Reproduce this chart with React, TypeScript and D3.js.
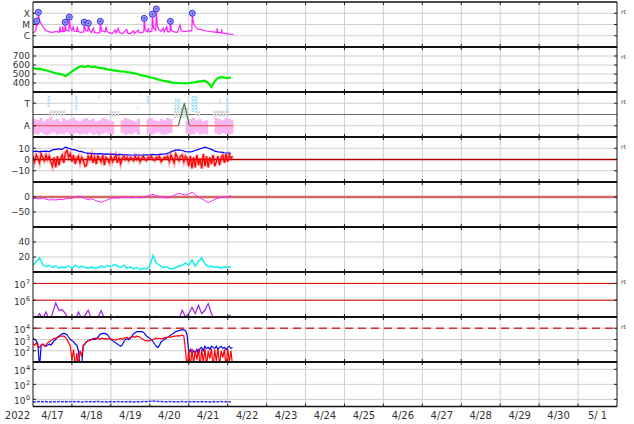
import React from 'react';
import * as d3 from 'd3';

const W = 634, H = 424;
const PLOT_LEFT = 33, PLOT_RIGHT = 617;
const YEAR_LABEL = '2022';
const dayLabels = ['4/17','4/18','4/19','4/20','4/21','4/22','4/23','4/24','4/25','4/26','4/27','4/28','4/29','4/30','5/ 1'];
const panelTops = [2, 47, 92, 137, 182, 227, 272, 317, 362];
const panelBottoms = [47, 92, 137, 182, 227, 272, 317, 362, 406.5];

// Panel 1: X-ray flux [hour, W/m2]
const xrayTrace: [number, number][] = [
  [0,1.8e-6],[1.0,2.2e-6],[1.8,3e-6],[2.3,2.0e-5],[2.8,8e-6],[3.3,1.2e-4],[3.9,2.5e-5],[5.3,1.0e-5],[6.5,5e-6],[8.4,2.8e-6],
  [10,2.2e-6],[12.5,2e-6],[14,2.4e-6],[16.3,2e-6],[16.6,6.4e-6],[17.0,2.5e-6],[18.0,2.2e-6],[18.3,6.8e-6],[18.8,2.5e-6],[19.6,2.4e-6],
  [19.9,1.6e-5],[20.4,3e-6],[22.1,2.6e-6],[22.4,4.6e-5],[23,5e-6],[24,3e-6],[24.9,6e-6],[25.3,2.6e-6],[27.0,2.4e-6],[27.3,6.4e-6],
  [27.8,2.5e-6],[29,2.0e-6],[31.3,2.2e-6],[31.6,1.6e-5],[32.3,3e-6],[33.8,2.6e-6],[34.1,1.3e-5],[34.8,3e-6],[36,2e-6],[37.2,4.6e-6],
  [37.8,2e-6],[39,1.7e-6],[41.2,1.9e-6],[41.5,1.9e-5],[42.2,2.8e-6],[44.5,2.2e-6],[45.0,6.4e-6],[45.6,2.5e-6],[47,1.8e-6],[49,1.6e-6],
  [50.6,3.2e-6],[51.2,1.8e-6],[52.6,4.6e-6],[53.2,2e-6],[55,1.5e-6],[57.8,3.7e-6],[58.4,1.6e-6],[60,1.5e-6],[61.9,2.8e-6],[62.5,1.6e-6],
  [64.9,3.2e-6],[65.5,1.8e-6],[67,1.9e-6],[68.3,2.2e-6],[68.6,3.5e-5],[69.2,3.5e-6],[70.6,2.2e-6],[71.1,4.6e-6],[71.6,2.2e-6],[73.3,2.5e-6],
  [73.6,8.1e-5],[74.2,5e-6],[75.7,3e-6],[76.0,2.4e-4],[76.6,8e-6],[77.5,3.5e-6],[79,2.4e-6],[80.4,4.6e-6],[80.9,2.2e-6],[82.4,6.4e-6],
  [82.9,2.3e-6],[84.4,2.2e-6],[84.7,1.9e-5],[85.4,3e-6],[87,2.2e-6],[89,2.0e-6],[90.6,9.1e-6],[91.3,3e-6],[93,2.3e-6],[95,2.6e-6],
  [97.9,2.8e-6],[98.2,1.0e-4],[98.8,1.5e-5],[99.9,6.4e-6],[101.5,4e-6],[103,3.7e-6],[106,2.8e-6],[109,2.4e-6],[111,2.2e-6],[113.3,2.0e-6],
  [113.5,4.6e-6],[113.9,2e-6],[116.1,1.8e-6],[116.3,3.7e-6],[116.7,1.7e-6],[119,1.6e-6],[121,1.4e-6],[123.5,1.35e-6]
];
const flareEvents: [number, number][] = [
  [2.3,2.0e-5],[3.3,1.2e-4],[19.9,1.6e-5],[22.4,4.6e-5],[31.6,1.6e-5],[34.1,1.3e-5],
  [41.5,1.9e-5],[68.6,3.5e-5],[73.6,8.1e-5],[76.0,2.4e-4],[84.7,1.9e-5],[98.2,1.0e-4]
];
const xrayClassTicks = [1e-4, 1e-5, 1e-6];
const xrayClassLabels = ['X', 'M', 'C'];

// Panel 2: solar wind speed, every 2 hours
const speed2h = [568,555,560,548,542,530,520,508,502,495,478,500,528,552,575,588,578,590,578,582,570,565,560,552,546,540,535,528,530,520,515,510,500,490,482,475,465,455,446,435,425,420,412,405,400,398,397,396,400,405,410,415,420,425,400,355,420,455,465,460,455,462];
const speedTicks = [700, 600, 500, 400];

// Panel 3: IMF sector (T = +1, A = -1), every 2 hours
const awayTop = [-0.4,-0.5,-0.3,-0.6,-0.4,-0.2,-0.5,-0.4,-0.6,-0.3,-0.5,-0.4,-0.3,-0.5,-0.6,-0.4,-0.3,-0.5,-0.4,-0.6,-0.5,-0.3,-0.4,-0.5,-0.6,-0.4,null,-0.5,-0.3,-0.4,-0.5,-0.6,-0.4,-0.5,null,-0.4,-0.3,-0.5,-0.6,-0.4,-0.5,-0.3,-0.4,-0.5,null,null,null,-0.6,-0.4,-0.3,-0.5,-0.4,-0.6,-0.5,-0.4,null,-0.3,-0.4,-0.5,-0.3,-0.4,-0.5];
const awayBottom = [-1.7,-1.8,-1.6,-1.75,-1.85,-1.7,-1.6,-1.8,-1.7,-1.75,-1.6,-1.8,-1.7,-1.65,-1.8,-1.7,-1.75,-1.6,-1.8,-1.7,-1.85,-1.7,-1.6,-1.75,-1.8,-1.7,null,-1.65,-1.8,-1.7,-1.75,-1.6,-1.8,-1.7,null,-1.75,-1.8,-1.7,-1.6,-1.75,-1.8,-1.7,-1.65,-1.8,null,null,null,-1.7,-1.8,-1.75,-1.6,-1.8,-1.7,-1.75,-1.8,null,-1.7,-1.8,-1.65,-1.75,-1.8,-1.7];
const towardClusters: [number, number, number, number][] = [
  [8.6,10.5,0.67,1.74],[26,27.5,0.4,1.65],[40,41,1.4,1.65],[45.5,46.5,1.4,1.65],[64,65,0.4,0.67],
  [70,72,1.0,1.74],[87.5,91,0.4,1.47],[97.4,101.7,0.22,1.65],[115,116,0.95,1.3],[119,120.5,0.22,1.47]
];
const grayClusters: [number, number, number, number][] = [
  [10,20,-0.1,0.4],[47,53,-0.2,0.3],[87,96,-0.3,0.6],[100,103,-0.1,0.3],[111,121,-0.2,0.4],
  [41,41.8,1.65,1.8],[66,66.8,1.65,1.8],[93,94,1.6,1.8],[101,102,1.6,1.8]
];
const sectorRedA1: [number, number][] = [[0,-1],[89.6,-1]];
const sectorRedA2: [number, number][] = [[96.4,-1],[123.5,-1]];
const sectorSwitch: [number, number][] = [[89.6,-1],[93.3,1],[96.4,-1]];

// Panel 4: IMF Bt (2h) and Bz (1h), nT
const bt2h = [7,7.5,6.8,7.2,7.5,7, 8.5,9,9.5,9,11,10, 9,8.5,7.5,7,6,5.5, 5.5,5,5,5.2,4.8,5, 4.5,4.8,4.2,4.5,4,4.2, 4,3.8,4.2,3.8,4,4.2, 4,4.5,4.2,4.5,4.8,5, 6,7.5,8.3,8.5,8,7, 6.8,7,8,9,10,11, 10,9,7.5,6.8,6.5,6, 5.8,5.5];
const bz1h = [3,-2,4,1,-3,5,2,-1,4,0,3,-2, -6,2,-7,3,-5,1,4,-3,6,8,2,5, -2,4,-4,1,3,-3,2,-1,-6,-5,3,0, 4,-3,2,-4,3,1,-2,4,-5,2,0,-3, 3,-2,1,4,-3,2,-4,1,3,0,2,-1, 2,1,-1,3,0,2,-2,1,3,0,-1,2, 1,3,0,-1,2,1,3,-2,0,2,1,3, -2,4,1,-3,5,2,-1,3,4,-2,3,1, -6,3,-8,2,-7,4,-5,1,-8,5,-6,3, -7,2,-4,4,-6,-2,3,-5,2,4,-3,5, -2,4,1,3];
const bTicks = [10, 0, -10];

// Panel 5: Dst-like index (2h), nT
const dst2h = [-4,-5,-6,-3,-7,-10,-9,-10,-8,-9, -6,-5,-4,0,3,1,-5,-9,-6,-10, -15,-18,-14,-9,-5,-3,-4,-2,0,-1, -3,-2,0,-3,-1,2,6,9,4,2, 0,-3,-2,3,8,12,9,6,10,16, 8,0,-6,-12,-19,-14,-8,-4,-2,0, -1,6];
const dstTicks = [0, -50];

// Panel 6: proton density (2h)
const dens2h = [9,14,19,10,7,9,6,8,5,7, 6,8,5,9,6,8,6,5,7,5, 6,8,6,9,7,10,8,6,9,5, 7,4,6,3,5,4,8,22,12,9, 6,7,5,4,6,8,9,12,9,16, 8,14,19,11,7,8,6,7,5,7, 6,7];
const densTicks = [40, 20];

// Panel 7: >2 MeV electrons (log10, 2h)
const electronLog2h = [4.8,4.9,5.2,4.9,5.3,4.8,5.2,5.84,5.4,5.44, 5.2,4.8,4.7,4.8,5.3,4.9,5.1,5.4,4.9,4.8, 5.0,5.38,4.9,4.8,4.7,4.8,5.05,4.8,4.7,4.7, 4.8,4.7,4.8,4.7,4.8,5.05,4.8,4.9,5.05,4.8, 4.7,4.8,4.7,4.8,4.7,4.9,5.4,5.0,5.2,5.58, 5.2,5.7,5.2,5.4,5.8,5.2,4.8,4.7,4.8,4.7, 5.05,5.1];
const electronTickExps = [7, 6];

// Panel 8: particle flux, log10, hourly (blue, red)
const fluxBlueLog = [3.1,3.0,2.9,2.6,0.5,2.4,2.6,2.5,2.4,2.5,2.6,2.5, 2.7,2.9,3.0,3.2,3.3,3.4,3.5,3.55,3.5,3.4,3.2,3.0, 2.9,2.8,2.6,2.5,2.0,0.5,0.8,2.4,2.6,2.8,2.9,3.0, 3.0,3.1,3.0,3.05,3.2,3.4,3.5,3.55,3.55,3.5,3.4,3.2, 3.0,2.9,2.8,2.7,2.6,2.5,2.4,2.5,2.8,3.0,3.05,3.0, 3.1,3.3,3.5,3.6,3.7,3.7,3.7,3.7,3.65,3.5,3.3,3.2, 3.1,3.0,2.8,2.6,2.4,2.3,2.5,2.8,2.9,3.0,3.1,3.2, 3.3,3.4,3.5,3.6,3.7,3.75,3.8,3.85,3.85,3.85,3.8,3.4, 1.8,2.1,1.7,2.0,1.8,2.1,1.7,2.2,2.3,2.0,2.4,2.2, 2.3,2.1,2.4,2.3,2.2,2.4,2.1,2.3,2.4,2.2,2.3,2.1, 2.3,2.4,2.2,2.3];
const fluxRedLog = [2.6,2.5,2.7,2.4,2.3,2.5,2.6,2.4,2.5,2.7,2.8,2.9, 3.0,3.1,3.1,3.2,3.2,3.3,3.3,3.3,3.2,3.0,2.7,2.4, 1.2,2.1,0.5,1.8,0.5,2.0,1.5,2.5,2.6,2.8,2.9,2.9, 3.0,3.0,3.1,3.1,3.1,3.0,3.1,3.1,3.05,3.1,3.0,3.1, 3.05,3.0,3.0,2.95,3.0,3.05,3.1,3.0,3.1,3.15,3.2,3.1, 3.2,3.2,3.25,3.2,3.3,3.25,3.2,3.1,3.0,2.9,2.9,2.85, 2.9,3.0,3.0,3.05,3.1,3.1,3.1,3.05,3.1,3.15,3.2,3.2, 3.25,3.2,3.25,3.3,3.3,3.35,3.3,3.35,3.4,3.3,2.0,0.5, 2.1,0.5,2.2,0.8,2.0,1.2,2.2,0.5,2.1,1.0,2.2,0.6, 2.0,1.3,2.2,0.5,2.1,1.1,2.2,0.6,2.0,1.4,2.1,0.5, 2.2,1.0,2.0,0.7];
const fluxTickExps = [4, 3, 2];
const fluxThreshold = 1e4;

// Panel 9: flat series (2h)
const lowFlux2h = [0.5,0.45,0.52,0.48,0.5,0.44,0.5,0.47,0.52,0.49, 0.5,0.46,0.53,0.48,0.5,0.45,0.51,0.48,0.5,0.47, 0.52,0.49,0.5,0.46,0.5,0.48,0.52,0.47,0.5,0.49, 0.51,0.46,0.5,0.48,0.53,0.5,0.55,0.6,0.56,0.52, 0.5,0.48,0.51,0.47,0.5,0.49,0.52,0.47,0.5,0.46, 0.5,0.48,0.51,0.47,0.5,0.45,0.5,0.48,0.52,0.47, 0.5,0.48];
const lowTickExps = [4, 2, 0];

const rtPanels = [0, 1, 2, 3, 6, 7];

const FONT = 'DejaVu Sans, sans-serif';
const YFS = 9;

function stepped(arr: (number | null)[], step: number): [number, number | null][] {
  return arr.map((v, i) => [i * step, v]);
}

export default function App() {
  const x = d3.scaleLinear().domain([0, 360]).range([PLOT_LEFT, PLOT_RIGHT]);
  const y1 = d3.scaleLog().domain([1e-7, 1e-3]).range([47, 2]);
  const y2 = d3.scaleLinear().domain([300, 800]).range([92, 47]);
  const y3 = d3.scaleLinear().domain([-2, 2]).range([137, 92]);
  const y4 = d3.scaleLinear().domain([-20, 20]).range([182, 137]);
  const y5 = d3.scaleLinear().domain([-100, 50]).range([227, 182]);
  const y6 = d3.scaleLinear().domain([0, 60]).range([272, 227]);
  const y7 = d3.scaleLog().domain([1e5, 4.8e7]).range([317, 272]);
  const y8 = d3.scaleLog().domain([1e1, 1e5]).range([362, 317]);
  const y9 = d3.scaleLog().domain([0.112, 9.5e4]).range([406.5, 362]);

  const mk = (ys: (v: number) => number) =>
    d3.line<[number, number | null]>().defined(d => d[1] != null).x(d => x(d[0])).y(d => ys(d[1] as number));

  const days = d3.range(1, 15).map(k => k * 24);

  const hGrid: { y: number; p: number }[] = [
    ...xrayClassTicks.map(v => ({ y: y1(v), p: 0 })),
    ...speedTicks.map(v => ({ y: y2(v), p: 1 })),
    { y: y3(1), p: 2 }, { y: y3(-1), p: 2 },
    ...bTicks.map(v => ({ y: y4(v), p: 3 })),
    ...dstTicks.map(v => ({ y: y5(v), p: 4 })),
    ...densTicks.map(v => ({ y: y6(v), p: 5 })),
    ...electronTickExps.map(e => ({ y: y7(Math.pow(10, e)), p: 6 })),
    ...fluxTickExps.map(e => ({ y: y8(Math.pow(10, e)), p: 7 })),
    ...lowTickExps.map(e => ({ y: y9(Math.pow(10, e)), p: 8 })),
  ];

  const label = (y: number, t: string, key: string) => (
    <text key={key} x={30} y={y + 3.3} textAnchor="end" fontSize={YFS} fill="#333" fontFamily={FONT}>{t}</text>
  );
  const powLabel = (y: number, e: number, key: string) => (
    <g key={key} fontFamily={FONT} fill="#333">
      <text x={25.5} y={y + 5} textAnchor="end" fontSize={YFS}>10</text>
      <text x={26} y={y + 0.5} fontSize={6.5}>{e}</text>
    </g>
  );

  const xrayPts = xrayTrace as [number, number | null][];
  const speedPts = stepped(speed2h, 2);
  const btPts = stepped(bt2h, 2);
  const bzPts = stepped(bz1h, 1);
  const dstPts = stepped(dst2h, 2);
  const densPts = stepped(dens2h, 2);
  const elecPts = stepped(electronLog2h.map(v => Math.pow(10, v)), 2);
  const bluePts = stepped(fluxBlueLog.map(v => Math.pow(10, v)), 1);
  const redPts = stepped(fluxRedLog.map(v => Math.pow(10, v)), 1);
  const lowPts = stepped(lowFlux2h, 2);

  // away band as stepped area (extra closing point so the last step has width)
  const awayRows: { h: number; t: number | null; b: number | null }[] = awayTop.map((t, i) => ({ h: i * 2, t, b: awayBottom[i] }));
  awayRows.push({ h: awayTop.length * 2 - 0.5, t: awayTop[awayTop.length - 1], b: awayBottom[awayBottom.length - 1] });
  const awayArea = d3.area<{ h: number; t: number | null; b: number | null }>()
    .defined(d => d.t != null && d.b != null)
    .curve(d3.curveStepAfter)
    .x(d => x(d.h))
    .y0(d => y3(d.b as number))
    .y1(d => y3(d.t as number));

  return (
    <svg width={W} height={H} viewBox={`0 0 ${W} ${H}`} style={{ position: 'absolute', left: 0, top: 0, background: '#fff' }}>
      <defs>
        {panelTops.map((t, i) => (
          <clipPath key={i} id={`clip${i}`}>
            <rect x={PLOT_LEFT} y={t} width={PLOT_RIGHT - PLOT_LEFT} height={panelBottoms[i] - t} />
          </clipPath>
        ))}
        <pattern id="dotsBlue" width={3} height={3} patternUnits="userSpaceOnUse">
          <rect x={0} y={0} width={2} height={2} fill="#a6e0f8" />
          <rect x={1.5} y={1.5} width={1.5} height={1.5} fill="#c2ebfa" />
        </pattern>
        <pattern id="dotsGray" width={3} height={3} patternUnits="userSpaceOnUse">
          <rect x={0} y={0} width={2} height={2} fill="#d2d2d2" />
          <rect x={1.5} y={1.5} width={1.5} height={1.5} fill="#e0e0e0" />
        </pattern>
      </defs>
      <rect x={0} y={0} width={W} height={H} fill="#fff" />

      {/* grid */}
      <g stroke="#cfcfcf" strokeWidth={1}>
        {days.map(h => <line key={h} x1={x(h)} x2={x(h)} y1={2} y2={406.5} />)}
        {hGrid.map((g, i) => <line key={i} x1={PLOT_LEFT} x2={PLOT_RIGHT} y1={g.y} y2={g.y} />)}
      </g>

      {/* Panel 1 */}
      <g clipPath="url(#clip0)">
        <path d={mk(y1)(xrayPts) || ''} fill="none" stroke="#ff1cff" strokeWidth={1.2} />
        {flareEvents.map((f, i) => (
          <g key={i}>
            <circle cx={x(f[0])} cy={y1(f[1])} r={3} fill="#a9a9ff" stroke="#2a2ae0" strokeWidth={1} />
            <line x1={x(f[0]) - 1.5} x2={x(f[0]) + 1.5} y1={y1(f[1])} y2={y1(f[1])} stroke="#2a2ae0" strokeWidth={0.6} />
            <line x1={x(f[0])} x2={x(f[0])} y1={y1(f[1]) - 1.5} y2={y1(f[1]) + 1.5} stroke="#2a2ae0" strokeWidth={0.6} />
          </g>
        ))}
      </g>

      {/* Panel 2 */}
      <g clipPath="url(#clip1)">
        <path d={mk(y2)(speedPts) || ''} fill="none" stroke="#00ee00" strokeWidth={2.2} />
      </g>

      {/* Panel 3 */}
      <g clipPath="url(#clip2)">
        <line x1={PLOT_LEFT} x2={PLOT_RIGHT} y1={y3(0)} y2={y3(0)} stroke="#6a6a6a" strokeWidth={1} />
        {grayClusters.map((c, i) => (
          <rect key={'g' + i} x={x(c[0])} width={x(c[1]) - x(c[0])} y={y3(c[3])} height={y3(c[2]) - y3(c[3])} fill="url(#dotsGray)" />
        ))}
        <path d={awayArea(awayRows) || ''} fill="#f8b6f0" />
        {towardClusters.map((c, i) => (
          <rect key={'t' + i} x={x(c[0])} width={x(c[1]) - x(c[0])} y={y3(c[3])} height={y3(c[2]) - y3(c[3])} fill="url(#dotsBlue)" />
        ))}
        <path d={mk(y3)(sectorRedA1) || ''} fill="none" stroke="#ff4040" strokeWidth={1.2} />
        <path d={mk(y3)(sectorRedA2) || ''} fill="none" stroke="#ff4040" strokeWidth={1.2} />
        <path d={mk(y3)(sectorSwitch) || ''} fill="none" stroke="#4f7a4f" strokeWidth={1.2} />
      </g>

      {/* Panel 4 */}
      <g clipPath="url(#clip3)">
        <path d={mk(y4)(bzPts) || ''} fill="none" stroke="#ff3030" strokeOpacity={0.35} strokeWidth={3.5} />
        <line x1={PLOT_LEFT} x2={PLOT_RIGHT} y1={y4(0)} y2={y4(0)} stroke="#b00000" strokeWidth={1.5} />
        <path d={mk(y4)(btPts) || ''} fill="none" stroke="#0000ff" strokeWidth={1.2} />
        <path d={mk(y4)(bzPts) || ''} fill="none" stroke="#ff0000" strokeWidth={1.3} />
      </g>

      {/* Panel 5 */}
      <g clipPath="url(#clip4)">
        <line x1={PLOT_LEFT} x2={PLOT_RIGHT} y1={y5(0)} y2={y5(0)} stroke="#d06868" strokeWidth={2.5} />
        <path d={mk(y5)(dstPts) || ''} fill="none" stroke="#ff22ff" strokeWidth={1} />
      </g>

      {/* Panel 6 */}
      <g clipPath="url(#clip5)">
        <path d={mk(y6)(densPts) || ''} fill="none" stroke="#11eeee" strokeWidth={1.5} />
      </g>

      {/* Panel 7 */}
      <g clipPath="url(#clip6)">
        {electronTickExps.map(e => (
          <line key={e} x1={PLOT_LEFT} x2={PLOT_RIGHT} y1={y7(Math.pow(10, e))} y2={y7(Math.pow(10, e))} stroke="#dd0000" strokeWidth={1} />
        ))}
        <path d={mk(y7)(elecPts) || ''} fill="none" stroke="#a020e0" strokeWidth={1.2} />
      </g>

      {/* Panel 8 */}
      <g clipPath="url(#clip7)">
        <line x1={PLOT_LEFT} x2={PLOT_RIGHT} y1={y8(fluxThreshold)} y2={y8(fluxThreshold)} stroke="#d83030" strokeWidth={1.3} strokeDasharray="8,5" />
        <path d={mk(y8)(bluePts) || ''} fill="none" stroke="#0000ff" strokeWidth={1.2} />
        <path d={mk(y8)(redPts) || ''} fill="none" stroke="#ff0000" strokeWidth={1.2} />
      </g>

      {/* Panel 9 */}
      <g clipPath="url(#clip8)">
        <path d={mk(y9)(lowPts) || ''} fill="none" stroke="#3030ff" strokeWidth={1.5} strokeDasharray="3,1" />
      </g>

      {/* ticks */}
      <g stroke="#222" strokeWidth={1}>
        {panelTops.map((t, i) => days.map(h => (
          <g key={i + '-' + h}>
            <line x1={x(h)} x2={x(h)} y1={t} y2={t + 3} />
            <line x1={x(h)} x2={x(h)} y1={panelBottoms[i]} y2={panelBottoms[i] - 3} />
          </g>
        )))}
        {hGrid.map((g, i) => (
          <g key={'r' + i}>
            <line x1={PLOT_RIGHT} x2={PLOT_RIGHT - 3} y1={g.y} y2={g.y} />
            <line x1={PLOT_LEFT} x2={PLOT_LEFT + 3} y1={g.y} y2={g.y} />
          </g>
        ))}
      </g>

      {/* borders */}
      <line x1={PLOT_LEFT} x2={PLOT_LEFT} y1={2} y2={406.5} stroke="#111" strokeWidth={1} />
      <line x1={PLOT_RIGHT} x2={PLOT_RIGHT} y1={2} y2={406.5} stroke="#111" strokeWidth={1} />
      <line x1={PLOT_LEFT} x2={PLOT_RIGHT} y1={2} y2={2} stroke="#111" strokeWidth={1.5} />
      {panelTops.slice(1).map(t => (
        <line key={t} x1={PLOT_LEFT} x2={PLOT_RIGHT} y1={t} y2={t} stroke="#111" strokeWidth={2.2} />
      ))}
      <line x1={PLOT_LEFT} x2={PLOT_RIGHT} y1={406.5} y2={406.5} stroke="#111" strokeWidth={1.5} />

      {/* y labels */}
      {xrayClassTicks.map((v, i) => label(y1(v), xrayClassLabels[i], 'x' + i))}
      {speedTicks.map(v => label(y2(v), String(v), 's' + v))}
      {label(y3(1), 'T', 'T')}
      {label(y3(-1), 'A', 'A')}
      {bTicks.map(v => label(y4(v), v < 0 ? '\u2212' + Math.abs(v) : String(v), 'b' + v))}
      {dstTicks.map(v => label(y5(v), v < 0 ? '\u2212' + Math.abs(v) : String(v), 'd' + v))}
      {densTicks.map(v => label(y6(v), String(v), 'n' + v))}
      {electronTickExps.map(e => powLabel(y7(Math.pow(10, e)), e, 'e' + e))}
      {fluxTickExps.map(e => powLabel(y8(Math.pow(10, e)), e, 'f' + e))}
      {lowTickExps.map(e => powLabel(y9(Math.pow(10, e)), e, 'l' + e))}

      {/* rt labels */}
      {rtPanels.map(p => (
        <text key={'rt' + p} x={621} y={panelTops[p] + 12} fontSize={6} fill="#444" fontFamily={FONT}>rt</text>
      ))}

      {/* x labels */}
      <text x={17.5} y={419} textAnchor="middle" fontSize={10} fill="#333" fontFamily={FONT}>{YEAR_LABEL}</text>
      {dayLabels.map((d, i) => (
        <text key={d} x={x(i * 24 + 12)} y={419} textAnchor="middle" fontSize={10} fill="#333" fontFamily={FONT} style={{ whiteSpace: 'pre' }}>{d}</text>
      ))}
    </svg>
  );
}
